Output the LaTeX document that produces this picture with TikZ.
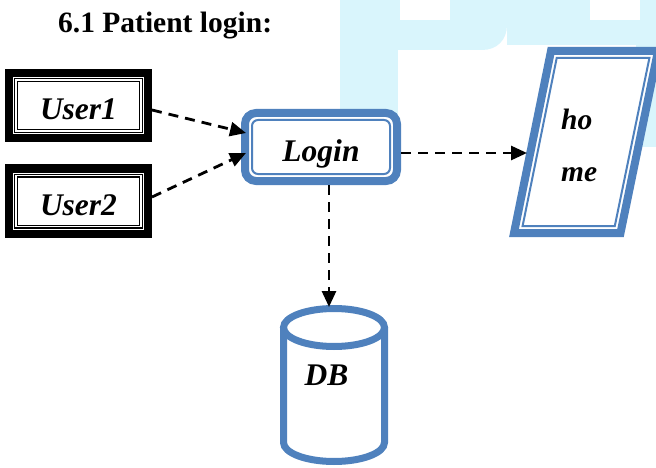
\documentclass[tikz,border=0pt]{standalone}
\usepackage{fontspec}
\setmainfont{Liberation Serif}
\usetikzlibrary{arrows.meta,calc}
\definecolor{wordblue}{RGB}{79,129,189}
\definecolor{wmark}{RGB}{217,245,252}
\begin{document}
\begin{tikzpicture}[x=1pt,y=-1pt,
  lbl/.style={font=\fontsize{31.5}{36}\selectfont\bfseries\itshape},
  userbox/.style={lbl, draw=black, line width=8pt, fill=white, minimum width=139pt, minimum height=65pt, inner sep=0pt, text height=29pt, text depth=0pt},
  userinner/.style={draw=black, line width=1.3pt, double=white, double distance=1.4pt},
  loginbox/.style={lbl, draw=wordblue, line width=8pt, fill=white, rounded corners=11pt, minimum width=152pt, minimum height=68pt, inner sep=0pt, text height=28pt, text depth=0pt},
  blueinner/.style={draw=wordblue, line width=2pt},
  blueouter/.style={draw=wordblue, line width=8pt, line join=miter},
  dbline/.style={draw=wordblue, line width=7pt},
  hometext/.style={font=\fontsize{29.5}{35}\selectfont\bfseries\itshape, anchor=base west, inner sep=0pt},
  flow/.style={draw=black, line width=2.8pt, dash pattern=on 10pt off 7pt, -{Triangle[length=16pt,width=14pt]}},
]
\useasboundingbox (0,0) rectangle (656,468);
% watermark
\fill[wmark] (340,0) rectangle (398,125);
\fill[wmark] (398,0) -- (507,0) -- (507,25) .. controls (507,40) and (497,50) .. (482,50) -- (398,50) -- cycle;
\fill[white] (400,0) rectangle (450,20);
\fill[wmark] (507,0) rectangle (656,45);
\fill[white] (590,0) rectangle (640,20);
\fill[wmark] (636,45) rectangle (656,147);
% title
\node[font=\fontsize{29.5}{35}\selectfont\bfseries, anchor=base west, inner sep=0pt] (title) at (58,33) {6.1 Patient login:};
% users
\node[userbox] (u1) at (78.5,105.5) {User1};
\draw[userinner] ([shift={(11pt,-11pt)}]u1.north west) rectangle ([shift={(-11pt,11pt)}]u1.south east);
\node[userbox] (u2) at (78.5,201) {User2};
\draw[userinner] ([shift={(11pt,-11pt)}]u2.north west) rectangle ([shift={(-11pt,11pt)}]u2.south east);
% login
\node[loginbox] (login) at (321,147) {Login};
\draw[blueinner, rounded corners=6pt] ([shift={(11pt,-11pt)}]login.north west) rectangle ([shift={(-11pt,11pt)}]login.south east);
% home
\draw[blueouter, fill=white] (514,233) -- (620.5,233) -- (658,51) -- (551,51) -- cycle;
\draw[blueinner] (522.6,226) -- (614.8,226) -- (649.4,58) -- (556.7,58) -- cycle;
\node[hometext] (ho) at (561,130) {ho};
\node[hometext] (me) at (561,181.7) {me};
\coordinate (homeL) at (527,153);
% database
\node[draw=none, minimum width=108pt, minimum height=160pt, inner sep=0pt, outer sep=0pt] (db) at (334,385) {};
\draw[dbline] (334,327.5) ellipse [x radius=50.5pt, y radius=19pt];
\draw[dbline] (283.5,327.5) -- (283.5,442.5) arc[start angle=180, end angle=360, x radius=50.5pt, y radius=19pt] -- (384.5,327.5);
\node[lbl, anchor=base, inner sep=0pt] (dbtext) at (326.5,385) {DB};
% connectors
\draw[flow] ([yshift=-4.5pt]u1.east) -- ([xshift=5pt,yshift=14pt]login.west);
\draw[flow] ([yshift=4pt]u2.east) -- ([xshift=5pt,yshift=-6pt]login.west);
\draw[flow] ([yshift=-6pt]login.east) -- (homeL);
\draw[flow] ([xshift=8pt]login.south) -- ([xshift=-5pt,yshift=-2pt]db.north);
\end{tikzpicture}
\end{document}
